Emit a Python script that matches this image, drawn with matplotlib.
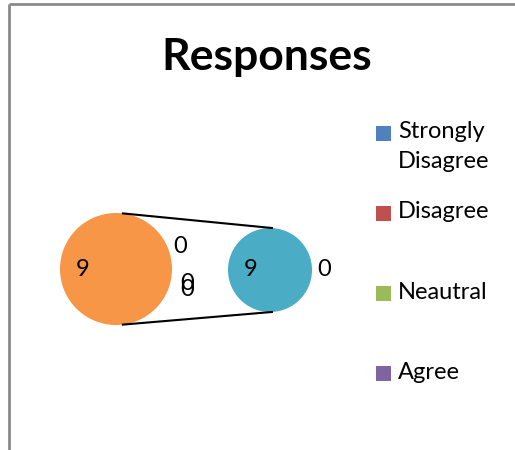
import numpy as np
import matplotlib
matplotlib.use("Agg")
import matplotlib.pyplot as plt
from matplotlib.patches import Rectangle

# ---- data ----
categories = ["Strongly\nDisagree", "Disagree", "Neautral", "Agree"]
legend_colors = ["#4F81BD", "#C0504D", "#9BBB59", "#8064A2"]
main_values = [0, 0, 0, 9]          # SD, D, N, Other
main_colors = ["#4F81BD", "#C0504D", "#9BBB59", "#F79646"]
second_values = [0, 9]              # Agree, Strongly Agree
second_colors = ["#8064A2", "#4BACC6"]
title = "Responses"

W, H = 515, 450
fig = plt.figure(figsize=(W / 100, H / 100), dpi=100)
ax = fig.add_axes([0, 0, 1, 1])
ax.set_xlim(0, W)
ax.set_ylim(0, H)
ax.axis("off")

FONT = "Lato"

def py(y):  # pixel row -> data y
    return H - y

# pies
c1 = (116, py(269)); r1 = 56
c2 = (270, py(270)); r2 = 42
ax.pie(main_values, colors=main_colors, center=c1, radius=r1, startangle=180,
       counterclock=True, wedgeprops=dict(linewidth=0))
ax.pie(second_values, colors=second_colors, center=c2, radius=r2, startangle=180,
       counterclock=True, wedgeprops=dict(linewidth=0))
ax.set_xlim(0, W)
ax.set_ylim(0, H)
ax.set_aspect("auto")

# connector lines
a1, a2 = np.deg2rad(84), np.deg2rad(86)
for s in (1, -1):
    ax.plot([c1[0] + r1 * np.cos(a1), c2[0] + r2 * np.cos(a2)],
            [c1[1] + s * r1 * np.sin(a1), c2[1] + s * r2 * np.sin(a2)],
            color="black", lw=1.5, solid_capstyle="butt")

# data labels (dx, dy offsets from pie centre, in radii)
main_label_pos = [(1.14, 0.41), (1.27, -0.26), (1.27, -0.36), (-0.59, 0.0)]
second_label_pos = [(1.29, 0.0), (-0.45, 0.0)]
lab_kw = dict(fontsize=17, family=FONT, ha="center", va="center", color="black")
for v, (dx, dy) in zip(main_values, main_label_pos):
    ax.text(c1[0] + dx * r1, c1[1] + dy * r1, str(v), **lab_kw)
for v, (dx, dy) in zip(second_values, second_label_pos):
    ax.text(c2[0] + dx * r2, c2[1] + dy * r2, str(v), **lab_kw)

# title
ax.text(267, py(57), title, fontsize=32, fontweight="bold", family=FONT,
        ha="center", va="center")

# legend (manual, Excel-like spacing)
leg_x, leg_y0, leg_step = 376, 133, 80.3
for i, (lab, col) in enumerate(zip(categories, legend_colors)):
    yc = py(leg_y0 + i * leg_step)
    ax.add_patch(Rectangle((leg_x, yc - 7.5), 15, 15, facecolor=col, edgecolor="none"))
    ax.text(leg_x + 22, yc + 12, lab, fontsize=17, family=FONT, ha="left", va="top",
            linespacing=1.55)

# chart border (only top and left visible)
ax.plot([8.5, 8.5], [0, py(3.5)], color="#8A8A8A", lw=2, solid_capstyle="butt")
ax.plot([8.5, W], [py(3.5), py(3.5)], color="#8A8A8A", lw=2, solid_capstyle="butt")

fig.savefig("out.png", dpi=100)
